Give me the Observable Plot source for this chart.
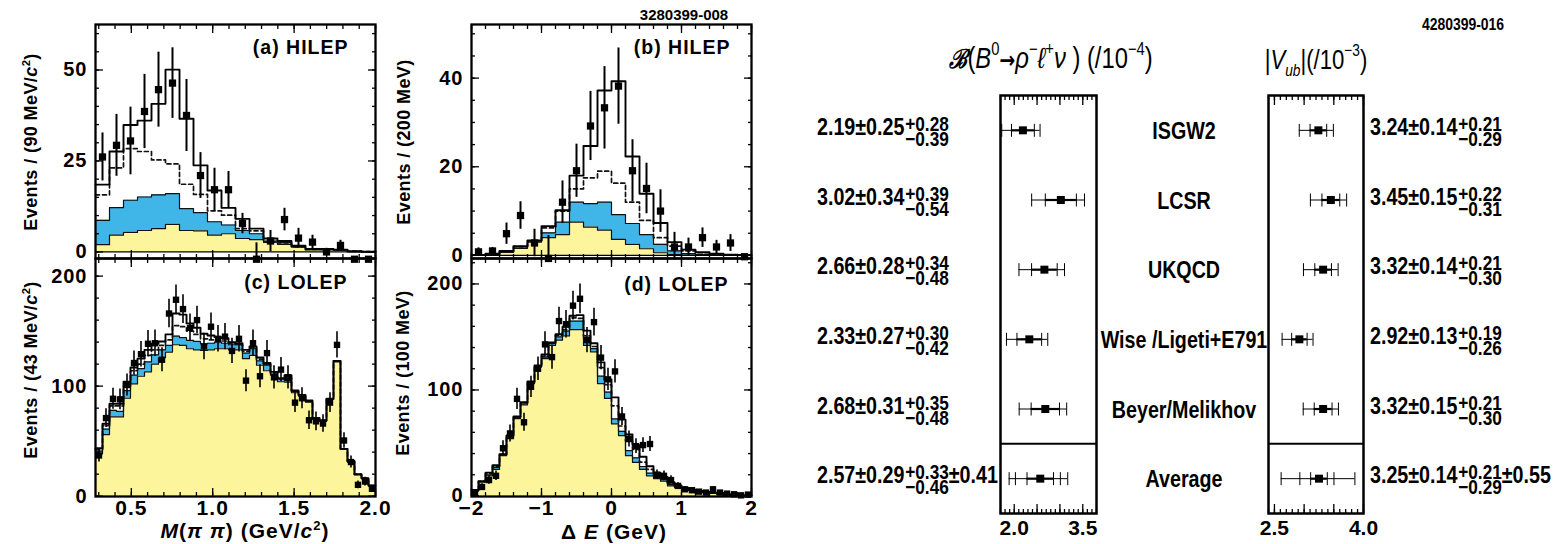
<!DOCTYPE html>
<html><head><meta charset="utf-8">
<script src="https://cdn.jsdelivr.net/npm/d3@7"></script>
<script src="https://cdn.jsdelivr.net/npm/@observablehq/plot@0.6"></script>
<style>
body{margin:0;background:#fff;}
#root{position:relative;width:1560px;height:544px;overflow:hidden;background:#fff;font-family:"Liberation Sans",Arial,sans-serif;color:#000;}
.wrap{position:absolute;}
.ytitle{position:absolute;transform:translate(-50%,-50%) rotate(-90deg);white-space:nowrap;font-weight:bold;font-size:18px;letter-spacing:0.4px;}
.xtitle{position:absolute;transform:translate(-50%,-50%);white-space:nowrap;font-weight:bold;font-size:21px;letter-spacing:1px;}
.sp{font-size:0.62em;vertical-align:0.6em;line-height:0;}
.cat{position:absolute;transform:translate(-50%,-50%);white-space:nowrap;font-weight:bold;}
.catn{position:absolute;transform:translate(-50%,-50%) scaleX(0.82);white-space:nowrap;font-weight:bold;}
.rv{position:absolute;white-space:nowrap;font-weight:bold;font-size:24px;line-height:24px;display:flex;align-items:center;transform:translateY(-50%) scaleX(0.82);transform-origin:left center;}
.rv .ss{display:inline-flex;flex-direction:column;font-size:21px;line-height:15px;margin-left:1px;position:relative;top:4px;}
.lab{position:absolute;white-space:nowrap;font-weight:bold;font-size:24px;line-height:24px;transform:translate(-50%,-50%) scaleX(0.82);}
.ttl{position:absolute;white-space:nowrap;font-size:27px;transform:translate(-50%,-50%) scaleX(0.82);}
.ttl sup{font-size:0.62em;vertical-align:0.75em;line-height:0;}
.ttl sub{font-size:0.62em;vertical-align:-0.45em;line-height:0;}
</style></head>
<body><div id="root"></div>
<script>
// ---------------- data: (a) HILEP M(pi pi), 20 bins ----------------
const aYellow = [2.0,4.6,5.4,5.9,6.4,7.6,5.9,5.8,4.6,5.0,3.7,3.4,2.7,2.1,1.4,0.6,0.6,0.5,0.1,0.0];
const aBlue   = [8.7,12.2,14.2,15.1,15.7,16.0,11.9,10.8,8.3,7.4,5.9,5.0,3.0,2.6,1.4,0.6,0.6,0.5,0.1,0.0];
const aDashed = [15.7,23.1,28.4,27.6,25.3,24.2,18.6,15.8,11.3,10.1,6.4,5.8,2.7,2.5,1.4,0.7,0.7,0.6,0.2,0.1];
const aTotal  = [18.5,27.6,34.9,36.1,40.7,50.1,36.6,23.8,16.9,12.1,9.1,6.4,3.7,3.0,1.7,0.8,0.8,0.6,0.2,0.1];
const aData   = [26.1,29.3,30.5,38.6,44.6,46.4,37.5,21.0,17.1,17.1,7.8,-2.0,3.0,8.9,3.8,2.7,0.0,1.8,-2.0,-2.0];
const aErr    = [6.6,8.5,9.3,10.2,10.3,9.7,9.9,6.3,5.9,5.0,2.8,4.5,2.9,3.1,2.7,1.9,1.0,1.4,0.5,0.5];

// ---------------- (b) HILEP Delta E, 20 bins ----------------
const bYellow = [0,0.1,0.7,1.6,3.0,4.0,4.7,7.5,6.4,5.7,3.6,2.5,1.5,0.6,0.2,0,0,0,0,0];
const bBlue   = [0,0.2,0.8,1.9,3.2,5.1,7.5,12.0,11.7,12.0,9.2,7.2,4.7,2.5,1.0,0.4,0.2,0.1,0,0];
const bDashed = [0.1,0.3,0.9,2.0,3.3,6.2,10.0,15.0,17.5,19.0,16.3,12.0,7.9,4.0,2.1,1.0,0.6,0.3,0.1,0.05];
const bTotal  = [0.1,0.4,1.0,2.1,3.4,6.6,10.2,18.0,24.7,37.2,39.3,22.3,13.9,7.3,3.0,1.3,0.7,0.4,0.15,0.1];
const bData   = [0.8,1.0,4.9,9.0,2.8,-0.7,12.0,19.1,29.2,33.3,38.2,19.1,15.1,10.0,1.9,1.9,4.0,1.9,2.8,-0.3];
const bErr    = [0.9,0.8,2.4,3.1,3.1,5.2,4.8,6.0,7.8,9.3,8.6,7.0,5.7,4.8,3.3,2.0,2.2,1.5,1.9,0.3];

// ---------------- (c) LOLEP M(pi pi), 40 bins ----------------
const cYellow = [38.5,56,72,72,89,102,109,113,120,126,131,137.6,137,134,133,132.4,133,134,134,133,133,125,128,119,114,110,104,103.6,94,91,85.5,70,68,88,122,42.4,31,19.4,15.8,9.1];
const cBlue   = [41,61,78,77,96,110,116,122,128.5,133,137,145.5,144,141.5,140.6,138.5,139,140,139,137.6,137.6,130,134,123,119,111,106.7,105,95,91.5,86,70.3,68.5,88.2,122.7,42.7,31.2,19.7,16.1,9.4];
const cDashed = [42.5,64,82,82,100,114,120,128,133,137,142,155,154,150,147,143,142,142,141,139,138,131.5,135,124.5,120,112,107,107.5,95.5,91.8,86.5,70.6,68.7,88.3,122.8,42.8,31.5,19.8,16.2,9.5];
const cTotal  = [43.6,65.8,84,84,104,117,125,133,138.5,140.6,147,166,165,157,153,147.6,146,144.5,143.6,140,139,133,136,126,121,113,107,110,96,92,87,71,69,88.5,123,43,32,20,16.4,9.7];
const cData   = [37,71,88.5,88,101,121,129,138.5,139,124,166,178.5,170,153,160,136,154,143,145,132,143,105,139,109,130,108,115,108,85,89,69,68,66,85,137.5,50.6,31,10.3,13.3,6.7];
const cErr    = [6,8.5,9.5,9.5,10,11,11.5,12,12,11,13,13.5,13,12.5,12.5,12,12.5,12,12,11.5,12,10,12,10.5,11.5,10.5,11,10.5,9,9.5,8.5,8.5,8,9,12,7,5.5,3.5,4,3];

// ---------------- (d) LOLEP Delta E, 40 bins ----------------
const dYellow = [4.7,13,19,25,38,54,73,86,106,121.6,129.5,142,147,151,157,157,142,136,106,92,68,57,38,31.6,25,19,16.4,14,9.5,7.9,6.3,5.4,3.8,3.2,2.5,1.9,1.3,0.6,0.3,0.2];
const dBlue   = [5.0,13.6,20,27,38.5,55,74,87,107,122,131,143.8,150,155.5,165,165,147.5,139,113,98,72.7,61,42.7,36,27.8,21.5,18.3,15.5,10.7,8.8,6.9,6.0,4.4,3.5,2.8,2.1,1.4,0.8,0.5,0.3];
const dDashed = [5.3,13.8,21,28,39,56,74.5,88,107.5,122.5,132,144.2,151.5,157,168,167.5,151,141,121,105,85,66,52,44,32,25,20,16.5,12,9.3,7.2,5.8,4.6,3.7,3.0,2.2,1.5,0.85,0.55,0.35];
const dTotal  = [5.7,14,22,29,39.5,57,75,88.5,108,123,133.6,144.7,152.6,159.6,170,170.6,156,144,126,110,93,72,58,48,37,28,22,18,13,10,7.5,5.9,4.8,3.9,3.2,2.3,1.6,0.9,0.6,0.4];
const dData   = [2.5,8.5,15,19,45,59,91.6,69.5,103,120,143,131,165,162,179.5,186,147,164,130.5,110,117.5,75,53.7,47,48,49,20,19,15,9.5,6.3,5.4,4.1,3.2,6.3,3.2,2.2,1.6,0.6,1.3];
const dErr    = [1.5,3,4,4.5,7,8,10,8.5,10,11,12,11.5,13,13,13.5,14,12,13,11.5,10.5,11,8.5,7.5,7,7,7,4.5,4.5,4,3,2.5,2.3,2,1.8,2.5,1.8,1.5,1.3,0.8,1.1];

// ---------------- axis ranges & ticks ----------------
const massRange = [0.28, 2.0];
const deRange = [-2, 2];
const massMajor = [0.5, 1.0, 1.5, 2.0];
const massMinor = [0.3,0.4,0.5,0.6,0.7,0.8,0.9,1.0,1.1,1.2,1.3,1.4,1.5,1.6,1.7,1.8,1.9,2.0];
const deMajor = [-2, -1, 0, 1, 2];
const deMinor = [-2,-1.8,-1.6,-1.4,-1.2,-1,-0.8,-0.6,-0.4,-0.2,0,0.2,0.4,0.6,0.8,1,1.2,1.4,1.6,1.8,2];
const aYTicks = [0, 25, 50], aYMinor = [0,5,10,15,20,25,30,35,40,45,50,55,60];
const bYTicks = [0, 20, 40], bYMinor = [0,5,10,15,20,25,30,35,40,45,50];
const cYTicks = [0, 100, 200], cYMinor = [0,20,40,60,80,100,120,140,160,180,200];
const dYTicks = [0, 100, 200], dYMinor = [0,20,40,60,80,100,120,140,160,180,200,220];

// ---------------- results table ----------------
const models  = ["ISGW2","LCSR","UKQCD","Wise /Ligeti+E791","Beyer/Melikhov","Average"];
const bfVal   = [2.19,3.02,2.66,2.33,2.68,2.57];
const bfStat  = [0.25,0.34,0.28,0.27,0.31,0.29];
const bfSysP  = [0.28,0.39,0.34,0.30,0.35,0.33];
const bfSysM  = [0.39,0.54,0.48,0.42,0.48,0.46];
const bfTheo  = [null,null,null,null,null,0.41];
const vubVal  = [3.24,3.45,3.32,2.92,3.32,3.25];
const vubStat = [0.14,0.15,0.14,0.13,0.15,0.14];
const vubSysP = [0.21,0.22,0.21,0.19,0.21,0.21];
const vubSysM = [0.29,0.31,0.30,0.26,0.30,0.29];
const vubTheo = [null,null,null,null,null,0.55];
const bfRange = [1.7, 3.8], bfMajor = [2.0,2.5,3.0,3.5], bfTickLabels = [2.0,3.5];
const bfMinor = [1.7,1.8,1.9,2.0,2.1,2.2,2.3,2.4,2.5,2.6,2.7,2.8,2.9,3.0,3.1,3.2,3.3,3.4,3.5,3.6,3.7,3.8];
const vubRange = [2.4, 4.0], vubMajor = [2.5,3.0,3.5,4.0], vubTickLabels = [2.5,4.0];
const vubMinor = [2.4,2.5,2.6,2.7,2.8,2.9,3.0,3.1,3.2,3.3,3.4,3.5,3.6,3.7,3.8,3.9,4.0];

// ---------------- styles ----------------
const YELLOW = "#fdf59c", BLUE = "#3fb5e8";
const root = document.getElementById("root");
function place(el, left, top, w) {
  const d = document.createElement("div");
  d.className = "wrap"; d.style.left = left + "px"; d.style.top = top + "px"; d.style.width = w + "px";
  d.appendChild(el); root.appendChild(d); return el;
}

function histPanel(c) {
  const n = c.total.length, bw = (c.range[1] - c.range[0]) / n;
  const steps = d3.range(n + 1).map(i => {
    const j = Math.min(i, n - 1);
    return {x: c.range[0] + i * bw, yel: c.yellow[j], blu: c.blue[j], das: c.dashed[j], tot: c.total[j]};
  });
  const pts = c.data.map((v, i) => ({x: c.range[0] + (i + 0.5) * bw, v, e: c.err[i]}));
  const tick = (anchor, ticks, size, k) => (k === "x" ? Plot.axisX : Plot.axisY)({anchor, ticks, tickSize: size, fill: "none", label: null, strokeWidth: 1.3});
  return Plot.plot({
    width: c.width, height: c.height,
    marginLeft: c.ml, marginRight: c.mr, marginTop: c.mt, marginBottom: c.mb,
    x: {domain: c.range, label: null},
    y: {domain: c.yDomain, label: null},
    style: {background: "transparent", overflow: "visible", fontFamily: "Liberation Sans, Arial, sans-serif", fontSize: "20px", fontWeight: "bold", letterSpacing: "1px", color: "#000"},
    marks: [
      Plot.areaY(steps, {x: "x", y1: 0, y2: "yel", curve: "step-after", fill: YELLOW}),
      Plot.areaY(steps, {x: "x", y1: "yel", y2: "blu", curve: "step-after", fill: BLUE}),
      Plot.lineY(steps, {x: "x", y: "yel", curve: "step-after", stroke: "#111", strokeWidth: 1.2}),
      Plot.lineY(steps, {x: "x", y: "blu", curve: "step-after", stroke: "#111", strokeWidth: 1.2}),
      Plot.lineY(steps, {x: "x", y: "das", curve: "step-after", stroke: "#111", strokeWidth: 1.7, strokeDasharray: "4,3"}),
      Plot.lineY(steps, {x: "x", y: "tot", curve: "step-after", stroke: "#000", strokeWidth: 1.9}),
      c.zero ? Plot.ruleY([0], {stroke: "#000", strokeWidth: 1.2}) : null,
      Plot.ruleX(pts, {x: "x", y1: d => d.v - d.e, y2: d => d.v + d.e, stroke: "#000", strokeWidth: c.ebw, clip: true}),
      Plot.dot(pts, {x: "x", y: "v", symbol: "square", fill: "#000", r: c.r}),
      Plot.frame({stroke: "#000", strokeWidth: 2.3}),
      tick("bottom", c.xMajor, -8, "x"), tick("bottom", c.xMinor, -4, "x"),
      tick("top", c.xMajor, -8, "x"), tick("top", c.xMinor, -4, "x"),
      tick("left", c.yMajor, -8, "y"), tick("left", c.yMinor, -4, "y"),
      tick("right", c.yMajor, -8, "y"), tick("right", c.yMinor, -4, "y"),
      Plot.axisY({anchor: "left", ticks: c.yMajor, tickSize: 0, tickPadding: 8, label: null, fill: "#000", fontSize: 20}),
      c.xLabels ? Plot.axisX({anchor: "bottom", ticks: c.xMajor, tickSize: 0, tickPadding: 4, label: null, fill: "#000", fontSize: 21, tickFormat: c.xFmt}) : null,
      Plot.text([c.label], {frameAnchor: "top-right", textAnchor: "end", lineAnchor: "middle", dx: c.ldx, dy: c.ldy, fontSize: 19.5, fill: "#000"})
    ]
  });
}

place(histPanel({range: massRange, yellow: aYellow, blue: aBlue, dashed: aDashed, total: aTotal, data: aData, err: aErr,
  yDomain: [-1.8, 62.5], yMajor: aYTicks, yMinor: aYMinor, xMajor: massMajor, xMinor: massMinor, xLabels: false,
  width: 390, height: 262, ml: 95, mr: 15, mt: 24, mb: 4, zero: true, r: 4.1, ebw: 2, label: "(a) HILEP", ldx: -27, ldy: 23}), 0, 0, 390);
place(histPanel({range: deRange, yellow: bYellow, blue: bBlue, dashed: bDashed, total: bTotal, data: bData, err: bErr,
  yDomain: [-0.7, 52.1], yMajor: bYTicks, yMinor: bYMinor, xMajor: deMajor, xMinor: deMinor, xLabels: false,
  width: 390, height: 262, ml: 91, mr: 19, mt: 24, mb: 4, zero: true, r: 4.1, ebw: 2, label: "(b) HILEP", ldx: -21, ldy: 23}), 380, 0, 390);
place(histPanel({range: massRange, yellow: cYellow, blue: cBlue, dashed: cDashed, total: cTotal, data: cData, err: cErr,
  yDomain: [-0.3, 216], yMajor: cYTicks, yMinor: cYMinor, xMajor: massMajor, xMinor: massMinor, xLabels: true, xFmt: d3.format(".1f"),
  width: 390, height: 304, ml: 95, mr: 15, mt: 18, mb: 48, zero: false, r: 3.6, ebw: 1.6, label: "(c) LOLEP", ldx: -28, ldy: 24}), 0, 240, 390);
place(histPanel({range: deRange, yellow: dYellow, blue: dBlue, dashed: dDashed, total: dTotal, data: dData, err: dErr,
  yDomain: [-0.5, 224], yMajor: dYTicks, yMinor: dYMinor, xMajor: deMajor, xMinor: deMinor, xLabels: true, xFmt: d3.format("d"),
  width: 390, height: 304, ml: 91, mr: 19, mt: 18, mb: 48, zero: false, r: 3.6, ebw: 1.6, label: "(d) LOLEP", ldx: -23, ldy: 26}), 380, 240, 390);

// ---------------- result panels ----------------
const vbar = {draw(ctx, size) { const h = Math.sqrt(size / Math.PI); ctx.moveTo(0, -h); ctx.lineTo(0, h); }};
const separatorAt = models.length - 1.5; // line between the individual models and the average

function resultPanel(c) {
  const rows = c.vals.map((v, i) => {
    const t = c.theo[i] || 0;
    return {i, v, sLo: v - c.stat[i], sHi: v + c.stat[i],
      mLo: v - Math.hypot(c.stat[i], c.sm[i]), mHi: v + Math.hypot(c.stat[i], c.sp[i]),
      tLo: v - Math.hypot(c.stat[i], c.sm[i], t), tHi: v + Math.hypot(c.stat[i], c.sp[i], t), theo: c.theo[i]};
  });
  const caps = rows.flatMap(r => {
    const xs = [r.sLo, r.sHi, r.mLo, r.mHi];
    if (r.theo != null) xs.push(r.tLo, r.tHi);
    return xs.map(x => ({x, i: r.i}));
  });
  const tick = (anchor, ticks, size) => Plot.axisX({anchor, ticks, tickSize: size, fill: "none", label: null, strokeWidth: 1.3});
  return Plot.plot({
    width: c.width, height: 544, marginLeft: c.ml, marginRight: c.mr, marginTop: 95, marginBottom: 31,
    x: {domain: c.range, label: null},
    y: {domain: [-0.5, models.length - 0.5], reverse: true, label: null, axis: null},
    style: {background: "transparent", overflow: "visible", fontFamily: "Liberation Sans, Arial, sans-serif", fontSize: "21px", fontWeight: "bold", color: "#000"},
    marks: [
      Plot.ruleY(rows, {y: "i", x1: "tLo", x2: "tHi", stroke: "#000", strokeWidth: 1}),
      Plot.ruleY(rows, {y: "i", x1: "sLo", x2: "sHi", stroke: "#000", strokeWidth: 2.2}),
      Plot.dot(caps, {x: "x", y: "i", symbol: vbar, r: 6.5, stroke: "#000", fill: "none", strokeWidth: 1}),
      Plot.dot(rows, {x: "v", y: "i", symbol: "square", r: 4.5, fill: "#000"}),
      Plot.ruleY([separatorAt], {stroke: "#000", strokeWidth: 2}),
      Plot.frame({stroke: "#000", strokeWidth: 2.5}),
      tick("top", c.major, -9), tick("top", c.minor, -4),
      tick("bottom", c.major, -9), tick("bottom", c.minor, -4),
      Plot.axisX({anchor: "bottom", ticks: c.labels, tickSize: 0, tickPadding: 7, label: null, fill: "#000", tickFormat: d3.format(".1f")})
    ]
  });
}

const bfChart = place(resultPanel({vals: bfVal, stat: bfStat, sp: bfSysP, sm: bfSysM, theo: bfTheo, range: bfRange,
  major: bfMajor, minor: bfMinor, labels: bfTickLabels, width: 320, ml: 200, mr: 24}), 800, 0, 320);
place(resultPanel({vals: vubVal, stat: vubStat, sp: vubSysP, sm: vubSysM, theo: vubTheo, range: vubRange,
  major: vubMajor, minor: vubMinor, labels: vubTickLabels, width: 290, ml: 168, mr: 27}), 1100, 0, 290);

// ---------------- text overlays ----------------
function addHTML(cls, html, left, top) {
  const d = document.createElement("div");
  d.className = cls; d.innerHTML = html; d.style.left = left + "px"; d.style.top = top + "px";
  root.appendChild(d); return d;
}
const f2 = v => v.toFixed(2);
function valueHTML(v, s, p, m, t) {
  return `<span>${f2(v)}±${f2(s)}</span><span class="ss"><span>+${f2(p)}</span><span>−${f2(m)}</span></span>` +
    (t != null ? `<span>±${f2(t)}</span>` : "");
}
const yRow = bfChart.scale("y");
models.forEach((m, i) => {
  const y = yRow.apply(i);
  addHTML("rv", valueHTML(bfVal[i], bfStat[i], bfSysP[i], bfSysM[i], bfTheo[i]), 817, y - 3);
  addHTML("rv", valueHTML(vubVal[i], vubStat[i], vubSysP[i], vubSysM[i], vubTheo[i]), 1370, y - 3);
  addHTML("lab", m, 1184, y + 1);
});

// titles
const t1 = addHTML("ttl", `<span style="font-family:'DejaVu Serif',serif;font-style:italic;font-weight:bold;font-size:0.9em">ℬ</span>(<i>B</i><sup>0</sup><span style="font-family:'DejaVu Sans';font-size:0.8em;font-weight:bold">→</span><i>ρ</i><sup>−</sup><i>ℓ</i><sup>+</sup><i>ν</i> ) (/10<sup>−4</sup>)`, 1051, 58);
t1.style.fontSize = "29px";
addHTML("ttl", `|<i>V</i><sub><i>ub</i></sub>|(/10<sup>−3</sup>)`, 1316, 60);
addHTML("cat", "3280399-008", 684, 14).style.fontSize = "15px";
addHTML("catn", "4280399-016", 1463, 25).style.fontSize = "17px";

// axis titles of the histogram panels
addHTML("ytitle", `Events / (90 MeV/<i>c</i><span class="sp">2</span>)`, 31, 142);
addHTML("ytitle", `Events / (43 MeV/<i>c</i><span class="sp">2</span>)`, 31, 370);
addHTML("ytitle", `Events / (200 MeV)`, 404, 142);
addHTML("ytitle", `Events / (100 MeV)`, 403, 373);
addHTML("xtitle", `<i>M</i>(<i>π π</i>) (GeV/<i>c</i><span class="sp">2</span>)`, 245, 531);
addHTML("xtitle", `Δ <i>E</i> (GeV)`, 614, 532);
</script>
</body></html>
